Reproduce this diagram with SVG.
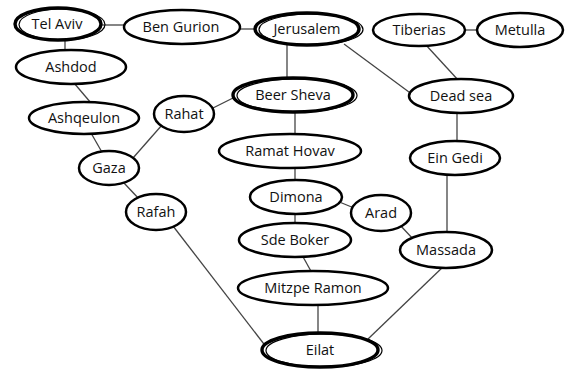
<svg xmlns="http://www.w3.org/2000/svg" width="568" height="369" viewBox="0 0 568 369">
<style>
.n{fill:#fff;stroke:#000;stroke-width:2.5}
.d{fill:#fff;stroke:#000;stroke-width:3.4}
.di{fill:none;stroke:#000;stroke-width:1.2}
.e{stroke:#444;stroke-width:1.3;fill:none}
text{font-family:"Open Sans","DejaVu Sans",sans-serif;font-size:14.5px;fill:#111;text-anchor:middle}
</style>
<rect width="568" height="369" fill="#fff"/>
<g id="connectors">
<line class="e" x1="100" y1="25" x2="126" y2="25"/>
<line class="e" x1="238" y1="29" x2="258" y2="29"/>
<line class="e" x1="462" y1="30" x2="480" y2="30"/>
<line class="e" x1="65" y1="38" x2="65" y2="52"/>
<line class="e" x1="74" y1="83" x2="91" y2="103"/>
<line class="e" x1="91" y1="133" x2="103" y2="154"/>
<line class="e" x1="133" y1="158" x2="162" y2="125"/>
<line class="e" x1="211" y1="109" x2="237" y2="96"/>
<line class="e" x1="287" y1="43" x2="287" y2="81"/>
<line class="e" x1="344" y1="44" x2="413" y2="95"/>
<line class="e" x1="425" y1="44" x2="459" y2="81"/>
<line class="e" x1="295" y1="110" x2="295" y2="136"/>
<line class="e" x1="457" y1="111" x2="457" y2="143"/>
<line class="e" x1="295" y1="166" x2="295" y2="182"/>
<line class="e" x1="295" y1="212" x2="295" y2="225"/>
<line class="e" x1="337" y1="201" x2="354" y2="208"/>
<line class="e" x1="447" y1="173" x2="447" y2="234"/>
<line class="e" x1="399" y1="224" x2="414" y2="240"/>
<line class="e" x1="124" y1="183" x2="140" y2="200"/>
<line class="e" x1="302" y1="255" x2="312" y2="273"/>
<line class="e" x1="318" y1="303" x2="318" y2="335"/>
<line class="e" x1="173" y1="226" x2="267" y2="348"/>
<line class="e" x1="445" y1="265" x2="368" y2="339"/>
</g>
<g id="tel-aviv"><ellipse class="d" cx="58" cy="24" rx="43" ry="16"/><ellipse class="di" cx="62" cy="24.5" rx="43" ry="15.5"/><text x="57" y="29">Tel Aviv</text></g>
<g id="ben-gurion"><ellipse class="n" cx="182" cy="27" rx="58" ry="17"/><text x="181" y="32">Ben Gurion</text></g>
<g id="jerusalem"><ellipse class="d" cx="307" cy="29" rx="52" ry="16"/><ellipse class="di" cx="311" cy="29.5" rx="52" ry="15.5"/><text x="307" y="34">Jerusalem</text></g>
<g id="tiberias"><ellipse class="n" cx="419" cy="30" rx="46" ry="16"/><text x="419" y="35">Tiberias</text></g>
<g id="metulla"><ellipse class="n" cx="520" cy="30" rx="43" ry="17"/><text x="520" y="35">Metulla</text></g>
<g id="ashdod"><ellipse class="n" cx="71" cy="67" rx="55" ry="17"/><text x="71" y="72">Ashdod</text></g>
<g id="ashqeulon"><ellipse class="n" cx="84" cy="118" rx="55" ry="16"/><text x="84" y="123">Ashqeulon</text></g>
<g id="rahat"><ellipse class="n" cx="184" cy="114" rx="30" ry="18"/><text x="184" y="119">Rahat</text></g>
<g id="beer-sheva"><ellipse class="d" cx="293" cy="95" rx="60" ry="17"/><ellipse class="di" cx="297" cy="95.5" rx="60" ry="16.5"/><text x="293" y="100">Beer Sheva</text></g>
<g id="dead-sea"><ellipse class="n" cx="461" cy="96" rx="52" ry="17"/><text x="461" y="101">Dead sea</text></g>
<g id="gaza"><ellipse class="n" cx="109" cy="168" rx="30" ry="17"/><text x="109" y="173">Gaza</text></g>
<g id="ramat-hovav"><ellipse class="n" cx="290" cy="151" rx="71" ry="17"/><text x="290" y="156">Ramat Hovav</text></g>
<g id="ein-gedi"><ellipse class="n" cx="455" cy="158" rx="45" ry="17"/><text x="455" y="163">Ein Gedi</text></g>
<g id="dimona"><ellipse class="n" cx="296" cy="197" rx="46" ry="17"/><text x="296" y="202">Dimona</text></g>
<g id="arad"><ellipse class="n" cx="381" cy="213" rx="30" ry="18"/><text x="381" y="218">Arad</text></g>
<g id="rafah"><ellipse class="n" cx="156" cy="212" rx="30" ry="18"/><text x="156" y="217">Rafah</text></g>
<g id="sde-boker"><ellipse class="n" cx="295" cy="240" rx="56" ry="17"/><text x="295" y="245">Sde Boker</text></g>
<g id="massada"><ellipse class="n" cx="446" cy="250" rx="46" ry="18"/><text x="446" y="255">Massada</text></g>
<g id="mitzpe-ramon"><ellipse class="n" cx="313" cy="288" rx="75" ry="17"/><text x="313" y="293">Mitzpe Ramon</text></g>
<g id="eilat"><ellipse class="d" cx="320" cy="350" rx="58" ry="17"/><ellipse class="di" cx="324" cy="350.5" rx="58" ry="16.5"/><text x="320" y="355">Eilat</text></g>
</svg>
